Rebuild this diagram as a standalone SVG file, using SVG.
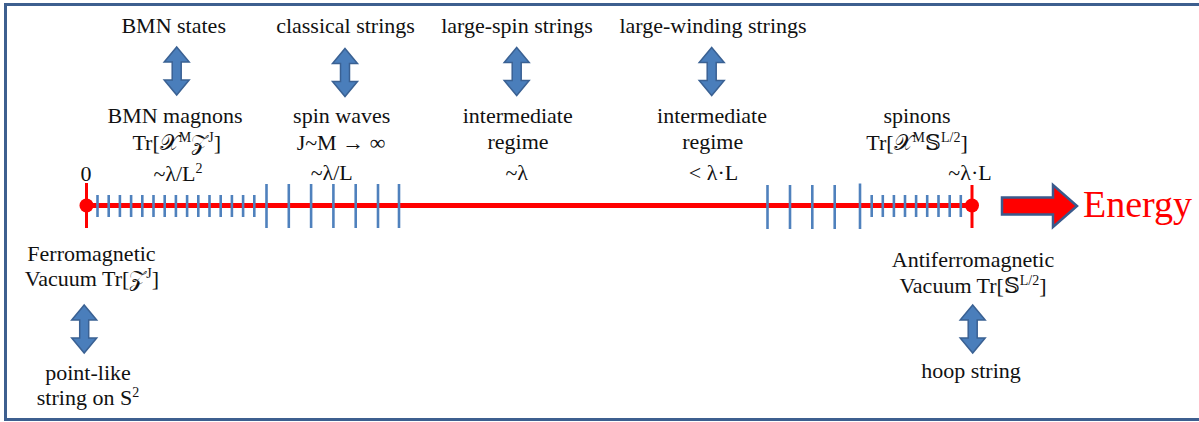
<svg xmlns="http://www.w3.org/2000/svg" width="1199" height="422" viewBox="0 0 1199 422">
<style>
.t{font-family:"Liberation Serif","Times New Roman","DejaVu Serif",serif;font-size:22px;fill:#111;text-anchor:middle}
.m{font-family:"DejaVu Serif","DejaVu Sans","Noto Sans",serif;font-style:normal}
.sup{font-size:14px}
.tk{stroke:#4F81BD;stroke-width:2.6}
.ax{stroke:#FF0000}
</style>
<defs>
<path id="dbl" d="M0,0 L12.5,15 L4.5,15 L4.5,33 L12.5,33 L0,48 L-12.5,33 L-4.5,33 L-4.5,15 L-12.5,15 Z" fill="#4A7EBB" stroke="#3A6193" stroke-width="1.5" stroke-linejoin="miter"/>
</defs>
<rect x="5.5" y="4.5" width="1210" height="415" fill="#fff" stroke="#3D5F8F" stroke-width="3"/>

<g id="connectors">
<use href="#dbl" x="176.7" y="47"/>
<use href="#dbl" x="345" y="48.5"/>
<use href="#dbl" x="516.7" y="47.5"/>
<use href="#dbl" x="711.7" y="47.5"/>
<use href="#dbl" x="84.2" y="305"/>
<use href="#dbl" x="972.7" y="305"/>
</g>

<g id="axis">
<line class="ax" x1="86.5" y1="205.5" x2="972" y2="205.5" stroke-width="5"/>
<line class="ax" x1="86.5" y1="183" x2="86.5" y2="228" stroke-width="3"/>
<line class="ax" x1="972" y1="185" x2="972" y2="228" stroke-width="3"/>
<circle cx="86.5" cy="205.5" r="7" fill="#FF0000"/>
<circle cx="972" cy="205.5" r="7" fill="#FF0000"/>
<g class="tk">
<line x1="97.5" y1="195" x2="97.5" y2="217"/>
<line x1="108.7" y1="195" x2="108.7" y2="217"/>
<line x1="119.9" y1="195" x2="119.9" y2="217"/>
<line x1="131.1" y1="195" x2="131.1" y2="217"/>
<line x1="142.3" y1="195" x2="142.3" y2="217"/>
<line x1="153.5" y1="195" x2="153.5" y2="217"/>
<line x1="164.7" y1="195" x2="164.7" y2="217"/>
<line x1="175.9" y1="195" x2="175.9" y2="217"/>
<line x1="187.1" y1="195" x2="187.1" y2="217"/>
<line x1="198.3" y1="195" x2="198.3" y2="217"/>
<line x1="209.5" y1="195" x2="209.5" y2="217"/>
<line x1="220.7" y1="195" x2="220.7" y2="217"/>
<line x1="231.9" y1="195" x2="231.9" y2="217"/>
<line x1="243.1" y1="195" x2="243.1" y2="217"/>
<line x1="254.3" y1="195" x2="254.3" y2="217"/>
<line x1="266.5" y1="184" x2="266.5" y2="228"/>
<line x1="288.8" y1="184" x2="288.8" y2="228"/>
<line x1="311.1" y1="184" x2="311.1" y2="228"/>
<line x1="333.4" y1="184" x2="333.4" y2="228"/>
<line x1="355.7" y1="184" x2="355.7" y2="228"/>
<line x1="378" y1="184" x2="378" y2="228"/>
<line x1="399" y1="184" x2="399" y2="228"/>
<line x1="767.5" y1="185" x2="767.5" y2="229"/>
<line x1="790" y1="185" x2="790" y2="229"/>
<line x1="812.3" y1="185" x2="812.3" y2="229"/>
<line x1="834.7" y1="185" x2="834.7" y2="229"/>
<line x1="860" y1="183.5" x2="860" y2="229"/>
<line x1="871.7" y1="195" x2="871.7" y2="217"/>
<line x1="882.8" y1="195" x2="882.8" y2="217"/>
<line x1="893.9" y1="195" x2="893.9" y2="217"/>
<line x1="905" y1="195" x2="905" y2="217"/>
<line x1="916.1" y1="195" x2="916.1" y2="217"/>
<line x1="927.2" y1="195" x2="927.2" y2="217"/>
<line x1="938.5" y1="195" x2="938.5" y2="217"/>
<line x1="949.7" y1="195" x2="949.7" y2="217"/>
<line x1="960.8" y1="195" x2="960.8" y2="217"/>
</g>
</g>

<g id="energy">
<path d="M1002,197.5 L1053,197.5 L1053,185 L1077,206 L1053,227 L1053,214.5 L1002,214.5 Z" fill="#FF0000" stroke="#3A5A8C" stroke-width="2.5" stroke-linejoin="miter"/>
<text x="1083" y="217" style="font-family:'Liberation Serif','Times New Roman',serif;font-size:38px;fill:#FF0000">Energy</text>
</g>

<g id="top-labels">
<text class="t" x="173.7" y="33">BMN states</text>
<text class="t" x="345.5" y="33">classical strings</text>
<text class="t" x="517" y="33">large-spin strings</text>
<text class="t" x="713" y="33">large-winding strings</text>
</g>

<g id="bmn">
<text class="t" x="175" y="123">BMN magnons</text>
<text class="t" x="176.7" y="150">Tr[<tspan class="m">𝒳</tspan><tspan class="sup" dy="-8">M</tspan><tspan class="m" dy="8">𝒵</tspan><tspan class="sup" dy="-8">J</tspan><tspan dy="8">]</tspan></text>
<text class="t" x="178" y="180.5">~λ/L<tspan class="sup" dy="-8">2</tspan></text>
<text class="t" x="86" y="180.5">0</text>
</g>

<g id="spinwaves">
<text class="t" x="341.7" y="123">spin waves</text>
<text class="t" x="341" y="150">J~M → ∞</text>
<text class="t" x="331.7" y="180">~λ/L</text>
</g>

<g id="intermediate1">
<text class="t" x="517.7" y="123">intermediate</text>
<text class="t" x="518" y="149">regime</text>
<text class="t" x="516.7" y="179.5">~λ</text>
</g>

<g id="intermediate2">
<text class="t" x="712" y="123">intermediate</text>
<text class="t" x="712.7" y="149">regime</text>
<text class="t" x="713.5" y="179.5">&lt; λ·L</text>
</g>

<g id="spinons">
<text class="t" x="917" y="123">spinons</text>
<text class="t" x="917" y="150">Tr[<tspan class="m">𝒳</tspan><tspan class="sup" dy="-8">M</tspan><tspan class="m" dy="8">𝕊</tspan><tspan class="sup" dy="-8">L/2</tspan><tspan dy="8">]</tspan></text>
<text class="t" x="970" y="179.5">~λ·L</text>
</g>

<g id="ferro">
<text class="t" x="91.5" y="260.5">Ferromagnetic</text>
<text class="t" x="92" y="285.5">Vacuum Tr[<tspan class="m">𝒵</tspan><tspan class="sup" dy="-8">J</tspan><tspan dy="8">]</tspan></text>
</g>

<g id="pointlike">
<text class="t" x="88" y="380">point-like</text>
<text class="t" x="88" y="405">string on S<tspan class="sup" dy="-8">2</tspan></text>
</g>

<g id="antiferro">
<text class="t" x="973" y="267">Antiferromagnetic</text>
<text class="t" x="973" y="292.5">Vacuum Tr[<tspan class="m">𝕊</tspan><tspan class="sup" dy="-8">L/2</tspan><tspan dy="8">]</tspan></text>
</g>

<g id="hoop">
<text class="t" x="971" y="378">hoop string</text>
</g>
</svg>
